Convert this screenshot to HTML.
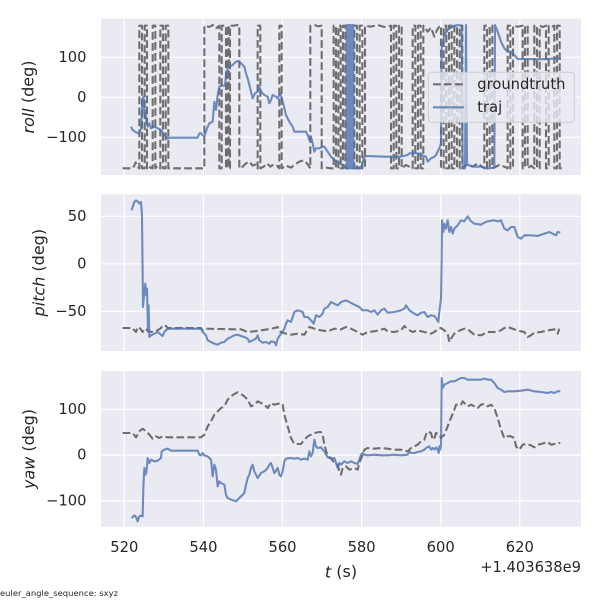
<!DOCTYPE html>
<html><head><meta charset="utf-8"><style>
html,body{margin:0;padding:0;background:#fff;}
svg{display:block;}
text{font-family:"DejaVu Sans","Liberation Sans",sans-serif;fill:#262626;}
</style></head><body>
<svg width="600" height="600" viewBox="0 0 600 600" xmlns="http://www.w3.org/2000/svg">
<defs>
<clipPath id="c1"><rect x="101" y="18.7" width="480" height="156.3"/></clipPath>
<clipPath id="c2"><rect x="101" y="194.3" width="480" height="156.7"/></clipPath>
<clipPath id="c3"><rect x="101" y="371" width="480" height="155.7"/></clipPath>
</defs>
<rect width="600" height="600" fill="#fff"/>

<rect x="101" y="18.7" width="480" height="156.3" fill="#EAEAF2"/>
<rect x="101" y="194.3" width="480" height="156.7" fill="#EAEAF2"/>
<rect x="101" y="371" width="480" height="155.7" fill="#EAEAF2"/>

<g stroke="#fff" stroke-width="1.2">
  <line x1="101" x2="581" y1="57.3" y2="57.3"/>
  <line x1="101" x2="581" y1="97.3" y2="97.3"/>
  <line x1="101" x2="581" y1="137.3" y2="137.3"/>
  <line x1="101" x2="581" y1="216.3" y2="216.3"/>
  <line x1="101" x2="581" y1="263.9" y2="263.9"/>
  <line x1="101" x2="581" y1="311.4" y2="311.4"/>
  <line x1="101" x2="581" y1="409.5" y2="409.5"/>
  <line x1="101" x2="581" y1="455.2" y2="455.2"/>
  <line x1="101" x2="581" y1="500.8" y2="500.8"/>
  <line x1="124.3" x2="124.3" y1="18.7" y2="175"/><line x1="203.4" x2="203.4" y1="18.7" y2="175"/><line x1="282.5" x2="282.5" y1="18.7" y2="175"/><line x1="361.6" x2="361.6" y1="18.7" y2="175"/><line x1="440.7" x2="440.7" y1="18.7" y2="175"/><line x1="519.8" x2="519.8" y1="18.7" y2="175"/>
  <line x1="124.3" x2="124.3" y1="194.3" y2="351"/><line x1="203.4" x2="203.4" y1="194.3" y2="351"/><line x1="282.5" x2="282.5" y1="194.3" y2="351"/><line x1="361.6" x2="361.6" y1="194.3" y2="351"/><line x1="440.7" x2="440.7" y1="194.3" y2="351"/><line x1="519.8" x2="519.8" y1="194.3" y2="351"/>
  <line x1="124.3" x2="124.3" y1="371" y2="526.7"/><line x1="203.4" x2="203.4" y1="371" y2="526.7"/><line x1="282.5" x2="282.5" y1="371" y2="526.7"/><line x1="361.6" x2="361.6" y1="371" y2="526.7"/><line x1="440.7" x2="440.7" y1="371" y2="526.7"/><line x1="519.8" x2="519.8" y1="371" y2="526.7"/>
</g>

<!-- ROLL -->
<g clip-path="url(#c1)">
<g transform="translate(101,15) scale(0.333333)" fill="none" stroke-linejoin="round">
<path stroke="#6e6e6e" stroke-width="6.25" stroke-dasharray="23.1 10" d="M65,460 L95,460 L100,452 L104,442 L108,455 L115,460
V32 H123 V460 H131 V32 H138 V460
L143,452 L148,458 L155,460
V32 H163 V460
L170,452 L178,460
V32 H186 V460 H194 V32 H202 V460
H310 V32 L325,36 L335,30 L345,40 L355,32 V460 H362 V32 H375 V460 H379 V32 H383 V460 H387 V32 L398,32 L410,30 H415 V460
L425,455 L435,445 L445,440 L455,452 L465,448 L470,460 V32 H478 V460
L488,455 L498,445 L508,455 L518,448 L528,452 L535,460 V32 H542 V460
L555,452 L570,458 L582,448 L595,440 L608,436 L618,445 L628,460 V32 L640,30 L652,34 L662,32 V460
L676,458 L690,460 H698 V32 H705 V460 H712 V32 H719 V460 H726 V32 H733 V460
H760 V32 H768 V460 H776 V32 H784 V460 H792 V32
L810,35 L830,30 L850,36 L870,32
V460 H878 V32 H886 V460 H894 V32 H902 V460
L915,450 L925,455 L935,460
V32 H943 V460 H951 V32 H959 V460 H967 V32
L980,50 L990,38 L1000,65 L1008,45 L1015,35 L1020,32
V460 H1028 V32 H1036 V460 H1044 V32 H1052 V460 H1060 V32 H1068 V460 H1076 V32 H1084 V460
L1100,448 L1115,455 L1130,445 L1150,460
V32 H1158 V460 H1166 V32 H1174 V460
L1195,450 L1210,455 L1220,460
V32 H1228 V460 H1236 V32 L1250,35 L1265,32 V460 H1272 V32 H1280 V460 L1290,452 L1300,460 V32 H1308 V460 H1316 V32 L1326,36 L1335,32 V460 H1343 V32 L1352,35 L1360,32 V460 H1368 V32 H1376 V460 L1382,460"/>
<path stroke="#4C72B0" stroke-opacity="0.8" stroke-width="6.25" d="M90,335 L95,345 L105,352 L115,355 L120,340 L125,250 L128,245 L130,300 L133,285 L136,320 L140,335 L145,325 L150,340 L160,335 L170,340 L180,345 L190,360 L200,370 L210,368 L290,368 L295,355 L300,355 L310,365 L318,340 L325,325 L335,320 L340,260 L345,285 L350,240 L355,215 L360,212 L372,212 L375,180 L380,160 L385,155 L395,150 L405,140 L412,138 L420,145 L430,155 L435,175 L440,190 L450,230 L455,250 L462,235 L470,230 L475,215 L480,230 L490,240 L500,245 L505,265 L510,255 L515,240 L525,245 L530,250 L538,235 L545,260 L555,300 L565,320 L575,335 L580,350 L600,350 L615,350 L620,360 L625,375 L630,365 L635,385 L640,410 L645,400 L655,400 L665,395 L670,395 L680,410 L690,425 L700,435 L710,440 L720,448 L728,455 L737,460
V30 H741 V460 H745 V30 H749 V460 H753 V30 H757 V460
L780,460 L790,425 L800,423 L850,425 L900,425 L920,420 L925,415 L950,415 L960,420 L975,425 L980,440 L985,435 L990,430 L1000,425 L1005,420 L1015,400 L1020,385 L1022,100 L1030,60 L1040,45 L1055,35 L1070,30 L1082,32 L1085,460 L1092,460 L1095,30 L1098,440 L1100,450 L1120,455 L1140,455 L1160,460 L1180,458 L1182,30 L1190,50 L1200,80 L1210,100 L1220,110 L1230,110 L1240,120 L1250,132 L1280,132 L1320,133 L1370,130 L1380,130"/>
</g>
</g>

<!-- PITCH -->
<g clip-path="url(#c2)">
<g transform="translate(101,192) scale(0.333333)" fill="none" stroke-linejoin="round">
<path stroke="#6e6e6e" stroke-width="6.25" stroke-dasharray="23.1 10" d="M65,408 L95,408 L100,415 L105,420 L110,405 L118,410 L125,420 L130,410 L140,415 L150,420 L160,418 L170,415 L180,408 L185,400 L195,402 L200,408 L300,408 L305,415 L315,410 L400,412 L420,412 L440,420 L460,418 L480,415 L500,412 L520,408 L530,405 L535,418 L545,422 L555,425 L570,428 L590,425 L610,428 L620,412 L625,405 L640,410 L660,415 L680,418 L700,410 L720,412 L735,405 L750,410 L770,420 L785,428 L800,420 L820,418 L835,415 L850,410 L860,418 L880,420 L900,415 L910,402 L920,412 L935,420 L950,415 L970,420 L990,425 L1000,420 L1010,412 L1020,408 L1030,415 L1040,425 L1045,450 L1050,440 L1060,425 L1070,418 L1090,410 L1100,412 L1110,420 L1120,428 L1140,430 L1160,420 L1180,420 L1200,415 L1210,408 L1220,405 L1240,412 L1260,418 L1270,420 L1280,435 L1290,430 L1300,422 L1320,420 L1340,415 L1360,412 L1370,425 L1375,410"/>
<path stroke="#4C72B0" stroke-opacity="0.8" stroke-width="6.25" d="M92,55 L95,45 L100,30 L105,25 L110,28 L115,35 L120,30 L123,70 L126,345 L130,300 L133,275 L136,310 L138,290 L141,420 L143,340 L145,435 L150,430 L160,425 L170,420 L180,428 L185,432 L190,420 L200,410 L300,410 L305,420 L315,430 L320,445 L330,450 L340,455 L350,458 L360,452 L370,450 L380,440 L390,435 L400,430 L410,428 L420,432 L430,435 L440,440 L445,450 L455,445 L465,440 L470,430 L475,445 L485,452 L495,450 L505,455 L510,448 L520,450 L525,460 L530,440 L540,425 L550,410 L555,395 L560,385 L570,390 L575,375 L580,360 L590,355 L600,358 L605,360 L610,375 L620,375 L630,385 L638,395 L645,370 L655,375 L665,365 L670,350 L680,345 L690,330 L700,335 L710,340 L720,330 L735,325 L745,330 L760,338 L775,345 L785,355 L800,355 L810,360 L820,355 L830,368 L840,355 L850,350 L860,362 L880,360 L900,355 L910,350 L915,340 L925,355 L940,365 L950,370 L960,362 L970,360 L980,375 L990,370 L1000,372 L1005,378 L1012,390 L1015,360 L1020,320 L1022,200 L1023,85 L1027,120 L1030,95 L1035,110 L1040,85 L1045,120 L1050,105 L1055,125 L1060,110 L1070,100 L1080,85 L1090,88 L1100,73 L1110,88 L1120,95 L1140,98 L1150,92 L1160,88 L1180,85 L1190,88 L1200,85 L1210,110 L1220,115 L1230,105 L1240,105 L1250,135 L1260,140 L1270,130 L1290,130 L1310,132 L1330,125 L1345,120 L1355,125 L1365,130 L1370,120 L1378,122"/>
</g>
</g>

<!-- YAW -->
<g clip-path="url(#c3)">
<g transform="translate(101,368) scale(0.333333)" fill="none" stroke-linejoin="round">
<path stroke="#6e6e6e" stroke-width="6.25" stroke-dasharray="23.1 10" d="M65,195 L80,195 L95,195 L105,208 L115,190 L125,182 L135,190 L145,200 L155,212 L165,205 L175,210 L185,205 L200,208 L300,208 L310,200 L320,175 L330,160 L340,140 L350,130 L360,120 L370,115 L380,95 L390,85 L400,78 L410,73 L420,78 L430,85 L440,95 L450,115 L460,110 L470,100 L480,105 L490,110 L500,120 L510,105 L520,110 L540,105 L545,110 L550,140 L560,175 L570,210 L580,228 L600,228 L610,215 L620,205 L630,200 L640,195 L655,192 L660,192 L665,200 L670,230 L680,265 L690,270 L700,285 L710,290 L715,310 L720,320 L725,300 L735,295 L745,305 L760,300 L770,305 L775,285 L785,260 L790,245 L800,240 L820,242 L840,240 L860,242 L880,245 L900,245 L920,250 L930,240 L940,235 L950,230 L960,220 L970,215 L975,200 L980,190 L990,195 L995,215 L1000,210 L1005,195 L1015,200 L1020,210 L1030,200 L1040,175 L1045,160 L1050,150 L1060,125 L1065,110 L1070,110 L1080,110 L1085,100 L1090,105 L1100,115 L1110,110 L1120,115 L1130,120 L1140,110 L1150,108 L1160,115 L1170,110 L1180,120 L1190,150 L1200,185 L1210,210 L1220,205 L1230,205 L1240,210 L1245,235 L1255,245 L1265,230 L1275,228 L1290,232 L1300,238 L1310,230 L1320,228 L1340,222 L1350,230 L1360,228 L1370,225 L1378,225"/>
<path stroke="#4C72B0" stroke-opacity="0.8" stroke-width="6.25" d="M92,450 L100,442 L105,447 L110,460 L115,445 L120,443 L125,445 L127,360 L130,300 L133,320 L136,315 L140,270 L145,285 L150,275 L160,280 L170,278 L180,270 L182,250 L190,245 L200,242 L210,248 L290,248 L295,260 L300,262 L305,255 L310,262 L320,265 L330,275 L335,325 L340,290 L345,305 L350,355 L355,340 L360,345 L370,350 L375,380 L380,390 L390,395 L400,398 L405,400 L410,395 L420,385 L430,375 L435,350 L440,330 L445,320 L450,300 L455,290 L460,310 L465,320 L470,330 L480,315 L490,310 L500,300 L505,290 L510,285 L515,300 L520,315 L530,300 L535,320 L540,325 L545,310 L550,280 L555,272 L570,270 L580,272 L590,270 L600,275 L610,272 L620,275 L625,250 L630,265 L635,255 L640,215 L645,235 L650,240 L660,238 L665,245 L670,250 L680,268 L690,272 L700,270 L705,285 L710,300 L715,285 L720,290 L730,280 L740,285 L750,280 L760,285 L770,288 L775,275 L780,260 L785,255 L790,260 L800,262 L820,260 L840,262 L860,262 L880,260 L900,262 L920,260 L925,250 L930,255 L940,255 L950,252 L960,250 L970,245 L975,240 L985,235 L990,245 L995,240 L1000,245 L1005,238 L1010,245 L1013,255 L1015,235 L1018,245 L1020,230 L1022,30 L1025,60 L1030,50 L1040,45 L1050,40 L1060,40 L1070,35 L1080,30 L1090,30 L1100,35 L1120,35 L1140,35 L1150,32 L1160,35 L1170,35 L1180,45 L1190,60 L1200,65 L1210,72 L1220,70 L1240,70 L1260,68 L1280,65 L1300,70 L1320,72 L1340,75 L1350,72 L1360,75 L1370,70 L1378,70"/>
</g>
</g>

<!-- legend -->
<rect x="428.3" y="72.3" width="146" height="50" rx="3" ry="3" fill="#EAEAF2" fill-opacity="0.8" stroke="#cccccc" stroke-width="1"/>
<line x1="433" x2="464" y1="84.3" y2="84.3" stroke="#6e6e6e" stroke-width="2.08" stroke-dasharray="7.7 3.3"/>
<line x1="433" x2="464" y1="107.3" y2="107.3" stroke="#4C72B0" stroke-opacity="0.8" stroke-width="2.08"/>
<text x="477.3" y="84.3" font-size="14.7" dominant-baseline="central">groundtruth</text>
<text x="477.3" y="107.3" font-size="14.7" dominant-baseline="central">traj</text>

<g font-size="14.7" text-anchor="end">
<text x="86.5" y="57.3" dominant-baseline="central">100</text>
<text x="86.5" y="97.3" dominant-baseline="central">0</text>
<text x="86.5" y="137.3" dominant-baseline="central">−100</text>
<text x="86.5" y="216.3" dominant-baseline="central">50</text>
<text x="86.5" y="263.9" dominant-baseline="central">0</text>
<text x="86.5" y="311.4" dominant-baseline="central">−50</text>
<text x="86.5" y="409.5" dominant-baseline="central">100</text>
<text x="86.5" y="455.2" dominant-baseline="central">0</text>
<text x="86.5" y="500.8" dominant-baseline="central">−100</text>
</g>

<g font-size="14.7" text-anchor="middle">
<text x="124.3" y="547.7" dominant-baseline="central">520</text>
<text x="203.4" y="547.7" dominant-baseline="central">540</text>
<text x="282.5" y="547.7" dominant-baseline="central">560</text>
<text x="361.6" y="547.7" dominant-baseline="central">580</text>
<text x="440.7" y="547.7" dominant-baseline="central">600</text>
<text x="519.8" y="547.7" dominant-baseline="central">620</text>
</g>
<text x="581" y="567.7" font-size="14.7" text-anchor="end" dominant-baseline="central">+1.403638e9</text>

<text x="341" y="571.7" font-size="16" text-anchor="middle" dominant-baseline="central"><tspan font-style="italic">t</tspan> (s)</text>
<text transform="translate(28,97) rotate(-90)" font-size="16" text-anchor="middle" dominant-baseline="central"><tspan font-style="italic">roll</tspan> (deg)</text>
<text transform="translate(38.3,272.7) rotate(-90)" font-size="16" text-anchor="middle" dominant-baseline="central"><tspan font-style="italic">pitch</tspan> (deg)</text>
<text transform="translate(28.3,449) rotate(-90)" font-size="16" text-anchor="middle" dominant-baseline="central"><tspan font-style="italic">yaw</tspan> (deg)</text>

<text x="0" y="593.3" font-size="8" dominant-baseline="central" textLength="118" lengthAdjust="spacingAndGlyphs">euler_angle_sequence: sxyz</text>
</svg>
</body></html>
